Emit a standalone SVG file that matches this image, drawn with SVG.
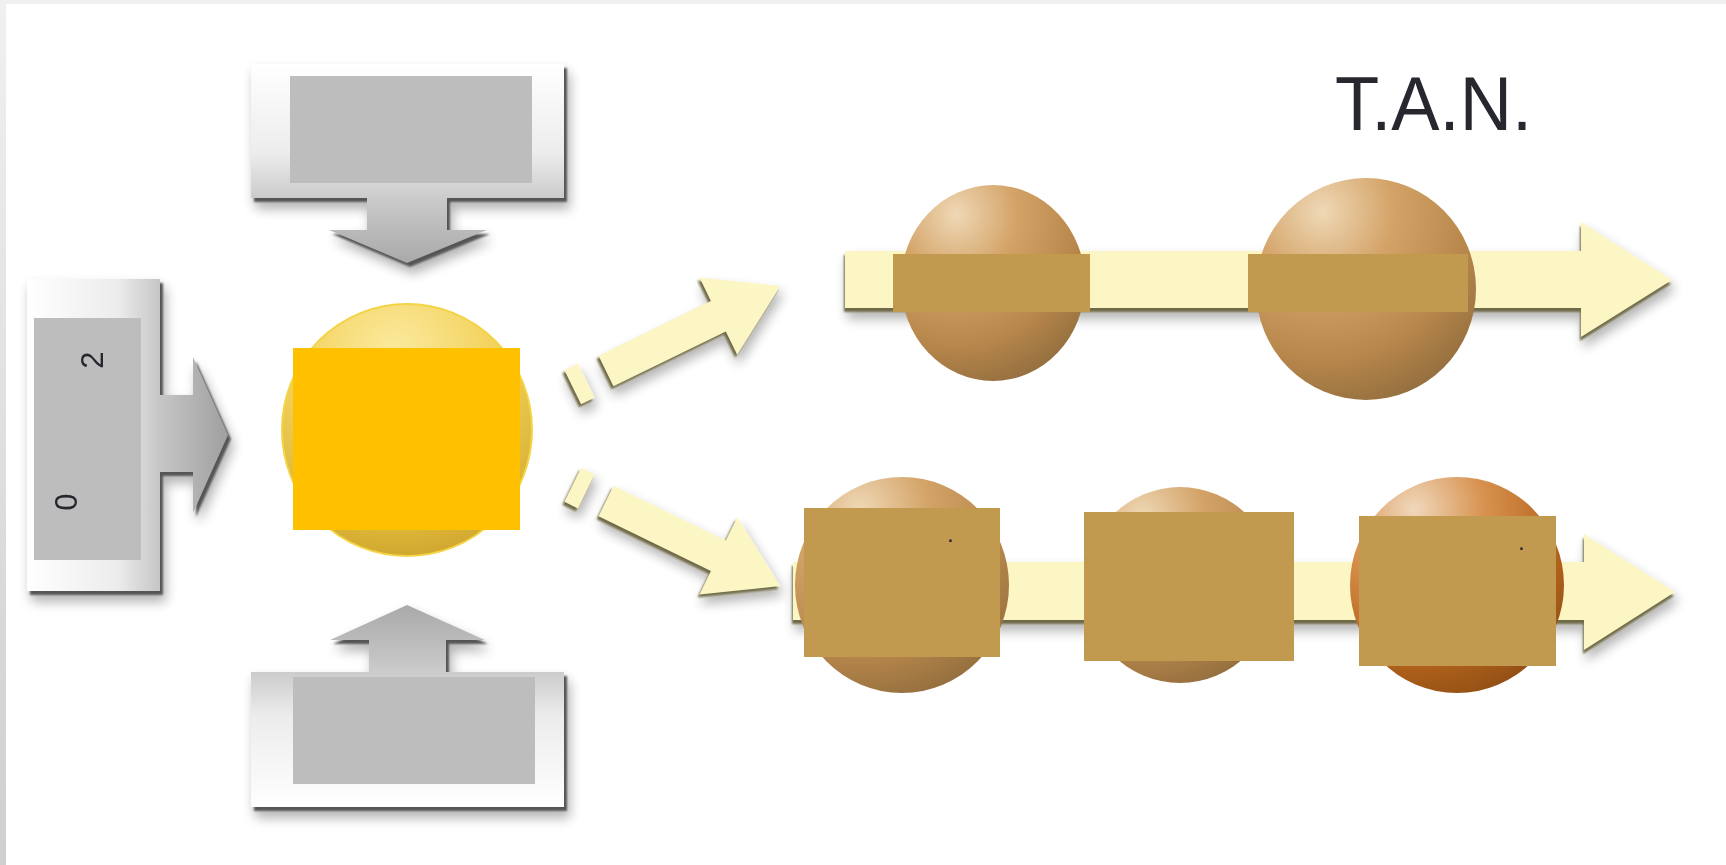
<svg xmlns="http://www.w3.org/2000/svg" width="1726" height="865" viewBox="0 0 1726 865">
<defs>
<style>
.inner{fill:#bdbdbd}
.edge{fill:#555555;filter:url(#blur1)}
.yel{fill:#fcf6c4}
.yedge{fill:#6f6b48;filter:url(#blur1)}
.brect{fill:#c19a4f}
.lbl{font-family:"Liberation Sans",Arial,sans-serif;fill:#27272f}
</style>
<filter id="blur1" x="-10%" y="-10%" width="120%" height="120%"><feGaussianBlur stdDeviation="1.2"/></filter>
<filter id="soft" x="-20%" y="-20%" width="140%" height="150%">
<feGaussianBlur in="SourceAlpha" stdDeviation="6"/><feOffset dx="3" dy="7"/>
<feComponentTransfer><feFuncA type="linear" slope="0.3"/></feComponentTransfer>
<feMerge><feMergeNode/><feMergeNode in="SourceGraphic"/></feMerge>
</filter>
<linearGradient id="gTop" gradientUnits="userSpaceOnUse" x1="0" y1="64" x2="0" y2="263">
<stop offset="0" stop-color="#ffffff"/><stop offset="0.45" stop-color="#ececec"/><stop offset="0.68" stop-color="#cacaca"/><stop offset="1" stop-color="#a9a9a9"/>
</linearGradient>
<linearGradient id="gBot" gradientUnits="userSpaceOnUse" x1="0" y1="807" x2="0" y2="605">
<stop offset="0" stop-color="#ffffff"/><stop offset="0.45" stop-color="#ececec"/><stop offset="0.68" stop-color="#cacaca"/><stop offset="1" stop-color="#a9a9a9"/>
</linearGradient>
<linearGradient id="gLeft" gradientUnits="userSpaceOnUse" x1="27" y1="0" x2="228" y2="0">
<stop offset="0" stop-color="#ffffff"/><stop offset="0.45" stop-color="#ececec"/><stop offset="0.66" stop-color="#c6c6c6"/><stop offset="1" stop-color="#9f9f9f"/>
</linearGradient>
<linearGradient id="gBorder" x1="0" y1="0" x2="0" y2="1">
<stop offset="0" stop-color="#f0f0f0"/><stop offset="1" stop-color="#cfcfcf"/>
</linearGradient>
<radialGradient id="gGold" cx="0.45" cy="0.2" r="0.9">
<stop offset="0" stop-color="#fbeaa0"/><stop offset="0.45" stop-color="#f3d25c"/><stop offset="0.8" stop-color="#dab236"/><stop offset="1" stop-color="#c79b28"/>
</radialGradient>
<radialGradient id="gBrown" cx="0.3" cy="0.15" r="0.95">
<stop offset="0" stop-color="#efd8b6"/><stop offset="0.35" stop-color="#d3a266"/><stop offset="0.7" stop-color="#b8874c"/><stop offset="1" stop-color="#8e6b3c"/>
</radialGradient>
<radialGradient id="gOrange" cx="0.3" cy="0.15" r="0.95">
<stop offset="0" stop-color="#f0d8bc"/><stop offset="0.35" stop-color="#d7914e"/><stop offset="0.7" stop-color="#b8661e"/><stop offset="1" stop-color="#8c4c12"/>
</radialGradient>
</defs>

<rect width="1726" height="865" fill="#ffffff"/>
<rect x="0" y="0" width="1726" height="4" fill="#f0f0f0"/>
<rect x="0" y="0" width="6" height="865" fill="url(#gBorder)"/>

<g id="connectors">
  <g id="arrow-up-right" filter="url(#soft)">
    <g transform="translate(-2,3)">
      <polygon class="yedge" transform="translate(606,371) rotate(-26)" points="0,-17 125,-17 125,-43 194,0 125,43 125,17 0,17"/>
      <rect class="yedge" transform="translate(606,371) rotate(-26)" x="-37" y="-19" width="15" height="38"/>
    </g>
    <polygon class="yel" transform="translate(606,371) rotate(-26)" points="0,-17 125,-17 125,-43 194,0 125,43 125,17 0,17"/>
    <rect class="yel" transform="translate(606,371) rotate(-26)" x="-37" y="-19" width="15" height="38"/>
  </g>
  <g id="arrow-down-right" filter="url(#soft)">
    <g transform="translate(-2,3)">
      <polygon class="yedge" transform="translate(606,501) rotate(26)" points="0,-17 125,-17 125,-43 194,0 125,43 125,17 0,17"/>
      <rect class="yedge" transform="translate(606,501) rotate(26)" x="-37" y="-19" width="15" height="38"/>
    </g>
    <polygon class="yel" transform="translate(606,501) rotate(26)" points="0,-17 125,-17 125,-43 194,0 125,43 125,17 0,17"/>
    <rect class="yel" transform="translate(606,501) rotate(26)" x="-37" y="-19" width="15" height="38"/>
  </g>
  <g id="track-upper" filter="url(#soft)">
    <path class="yedge" transform="translate(-1,4)" d="M845,251 H1581 V222 L1672,280 L1581,337 V308 H845 Z"/>
    <path class="yel" d="M845,251 H1581 V222 L1672,280 L1581,337 V308 H845 Z"/>
  </g>
  <g id="track-lower" filter="url(#soft)">
    <path class="yedge" transform="translate(-1,4)" d="M793,562 H1584 V534 L1675,592 L1584,650 V620 H793 Z"/>
    <path class="yel" d="M793,562 H1584 V534 L1675,592 L1584,650 V620 H793 Z"/>
  </g>
</g>

<g id="input-top" filter="url(#soft)">
  <path class="edge" transform="translate(3,4)" d="M251,64 H564 V198 H447 V230 H487 L407,263 L329,230 H367 V198 H251 Z"/>
  <path fill="url(#gTop)" d="M251,64 H564 V198 H447 V230 H487 L407,263 L329,230 H367 V198 H251 Z"/>
  <rect class="inner" x="290" y="76" width="242" height="107"/>
</g>

<g id="input-left" filter="url(#soft)">
  <path class="edge" transform="translate(3,4)" d="M27,279 H160 V395 H193 V357 L228,435 L193,513 V472 H160 V591 H27 Z"/>
  <path fill="url(#gLeft)" d="M27,279 H160 V395 H193 V357 L228,435 L193,513 V472 H160 V591 H27 Z"/>
  <rect class="inner" x="34" y="318" width="107" height="242"/>
  <text class="lbl" font-size="31" text-anchor="middle" transform="translate(103,360) rotate(-90)">2</text>
  <text class="lbl" font-size="31" text-anchor="middle" transform="translate(77,502) rotate(-90)">0</text>
</g>

<g id="input-bottom" filter="url(#soft)">
  <path class="edge" transform="translate(3,4)" d="M251,807 H564 V672 H446 V640 H485 L407,605 L330,640 H369 V672 H251 Z"/>
  <path fill="url(#gBot)" d="M251,807 H564 V672 H446 V640 H485 L407,605 L330,640 H369 V672 H251 Z"/>
  <rect class="inner" x="293" y="677" width="242" height="107"/>
</g>

<g id="center">
  <ellipse cx="407" cy="430" rx="125" ry="126" fill="url(#gGold)" stroke="#f2d444" stroke-width="2"/>
  <rect x="293" y="348" width="227" height="182" fill="#ffc000"/>
</g>

<g id="title">
  <text class="lbl" x="1335" y="130" font-size="76" textLength="197" lengthAdjust="spacingAndGlyphs">T.A.N.</text>
</g>

<g id="upper-1">
  <ellipse cx="993" cy="283" rx="92" ry="98" fill="url(#gBrown)"/>
  <rect class="brect" x="893" y="254" width="197" height="58"/>
</g>
<g id="upper-2">
  <ellipse cx="1366" cy="289" rx="110" ry="111" fill="url(#gBrown)"/>
  <rect class="brect" x="1248" y="254" width="220" height="58"/>
</g>

<g id="lower-1">
  <ellipse cx="902" cy="585" rx="107" ry="108" fill="url(#gBrown)"/>
  <rect class="brect" x="804" y="508" width="196" height="149"/>
  <text class="lbl" x="947" y="542" font-size="24">.</text>
</g>
<g id="lower-2">
  <ellipse cx="1180" cy="585" rx="96" ry="98" fill="url(#gBrown)"/>
  <rect class="brect" x="1084" y="512" width="210" height="149"/>
</g>
<g id="lower-3">
  <ellipse cx="1457" cy="585" rx="107" ry="108" fill="url(#gOrange)"/>
  <rect class="brect" x="1359" y="516" width="197" height="150"/>
  <text class="lbl" x="1518" y="550" font-size="24">.</text>
</g>
</svg>
